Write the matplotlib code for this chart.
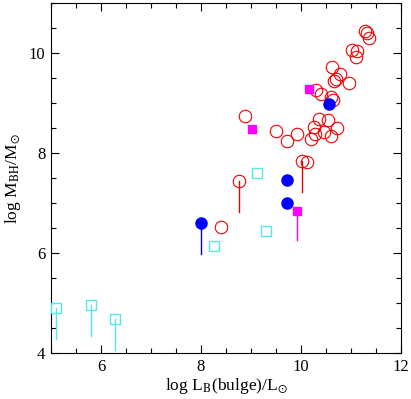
import numpy as np
import matplotlib
matplotlib.use('Agg')
import matplotlib.pyplot as plt
from matplotlib.ticker import MultipleLocator

plt.rcParams['font.family'] = ['Liberation Serif', 'DejaVu Serif']
plt.rcParams['mathtext.fontset'] = 'stix'

# open red circles (log L_bulge, log M_BH)
red_x = [11.27, 11.32, 11.35, 11.02, 11.11, 11.10, 10.62, 10.78, 10.70, 10.65, 10.96,
         10.30, 10.40, 10.60, 10.63, 8.87, 9.49, 9.72, 9.91, 10.20, 10.25, 10.35,
         10.53, 10.27, 10.45, 10.72, 10.60, 10.11, 8.40]
red_y = [10.45, 10.40, 10.31, 10.06, 10.04, 9.93, 9.73, 9.59, 9.49, 9.45, 9.41,
         9.26, 9.19, 9.13, 9.07, 8.75, 8.44, 8.25, 8.39, 8.29, 8.53, 8.68,
         8.66, 8.39, 8.43, 8.51, 8.35, 7.83, 6.53]
# red circles with a downward line (x, y, lower end)
red_lim_x = [8.75, 10.02]
red_lim_y = [7.44, 7.85]
red_lim_lo = [6.83, 7.23]

# filled blue circles
blue_x = [10.55, 9.72, 9.72, 8.00]
blue_y = [8.99, 7.47, 7.01, 6.61]
blue_lo = [None, None, None, 5.99]

# filled magenta squares
mag_x = [10.15, 9.01, 9.91]
mag_y = [9.29, 8.48, 6.85]
mag_lo = [None, None, 6.26]

# open cyan squares
cyan_x = [9.11, 9.29, 8.25, 5.10, 5.81, 6.29]
cyan_y = [7.61, 6.45, 6.14, 4.91, 4.96, 4.69]
cyan_lo = [None, None, None, 4.29, 4.35, 4.07]

red = '#ee0000'
blue = '#0000ff'
magenta = '#ff00ff'
cyan = '#55e8e8'

fig = plt.figure(figsize=(4.11, 3.99), dpi=100)
ax = fig.add_axes([0.124, 0.115, 0.852, 0.877])


def drop_lines(xs, ys, los, color):
    for x, y, lo in zip(xs, ys, los):
        if lo is not None:
            ax.plot([x, x], [y, lo], color=color, lw=1.0, zorder=2)


drop_lines(red_lim_x, red_lim_y, red_lim_lo, red)
drop_lines(blue_x, blue_y, blue_lo, blue)
drop_lines(mag_x, mag_y, mag_lo, magenta)
drop_lines(cyan_x, cyan_y, cyan_lo, cyan)

ax.plot(red_x + red_lim_x, red_y + red_lim_y, 'o', ms=9, mfc='none', mec=red,
        mew=0.8, ls='none', zorder=3)
ax.plot(blue_x, blue_y, 'o', ms=8, color=blue, ls='none', zorder=4)
ax.plot(mag_x, mag_y, 's', ms=5.5, color=magenta, ls='none', zorder=4)
ax.plot(cyan_x, cyan_y, 's', ms=6.5, mfc='none', mec=cyan, mew=1.0, ls='none',
        zorder=4, clip_on=False)

ax.set_xlim(5, 12)
ax.set_ylim(4, 11)
ax.xaxis.set_major_locator(MultipleLocator(2))
ax.xaxis.set_minor_locator(MultipleLocator(0.5))
ax.yaxis.set_major_locator(MultipleLocator(2))
ax.yaxis.set_minor_locator(MultipleLocator(0.5))
ax.tick_params(which='both', direction='in', top=True, right=True, width=0.8,
               labelsize=12)
ax.tick_params(which='major', length=6, pad=4)
ax.tick_params(which='minor', length=3.5)
for s in ax.spines.values():
    s.set_linewidth(0.8)

ax.set_xlabel(r'log L$_{\rm B}$(bulge)/L$_{\odot}$', fontsize=12.5, labelpad=1)
ax.set_ylabel(r'log M$_{\rm BH}$/M$_{\odot}$', fontsize=12.5, labelpad=4)

fig.savefig('out.png', dpi=100)
